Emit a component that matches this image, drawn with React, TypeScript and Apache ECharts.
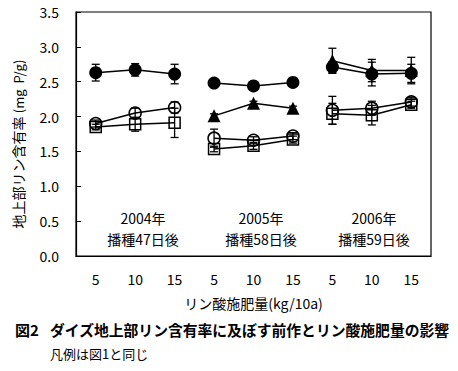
import React, { useEffect, useRef } from "react";
import * as echarts from "echarts";

const xLabels = ["5", "10", "15", "5", "10", "15", "5", "10", "15"];
const yearLabels = ["2004年", "2005年", "2006年"];
const sowingLabels = ["播種47日後", "播種58日後", "播種59日後"];
const yTicks = [0, 0.5, 1.0, 1.5, 2.0, 2.5, 3.0, 3.5];

const filledCircleMean = [2.63, 2.67, 2.61, 2.48, 2.44, 2.49, 2.71, 2.61, 2.62];
const filledCircleErr = [0.12, 0.09, 0.14, 0.03, 0.03, 0.03, 0.08, 0.17, 0.13];
const filledTriangleMean = [null, null, null, 2.01, 2.19, 2.12, 2.8, 2.66, 2.66];
const filledTriangleErr = [null, null, null, 0.03, 0.03, 0.03, 0.18, 0.16, 0.19];
const openCircleMean = [1.9, 2.05, 2.13, 1.69, 1.66, 1.72, 2.09, 2.12, 2.21];
const openCircleErr = [0.05, 0.07, 0.08, 0.13, 0.05, 0.05, 0.2, 0.1, 0.06];
const openSquareMean = [1.85, 1.89, 1.91, 1.535, 1.58, 1.67, 2.04, 2.02, 2.17];
const openSquareErr = [0.04, 0.1, 0.21, 0.04, 0.05, 0.05, 0.15, 0.14, 0.05];

const FONT = "'Noto Sans CJK JP', 'Noto Sans', sans-serif";

type Kind = {
  name: string;
  mean: (number | null)[];
  err: (number | null)[];
  symbol: string;
  size: number;
  filled: boolean;
};

const kinds: Kind[] = [
  { name: "openSquare", mean: openSquareMean, err: openSquareErr, symbol: "rect", size: 11, filled: false },
  { name: "openCircle", mean: openCircleMean, err: openCircleErr, symbol: "circle", size: 12, filled: false },
  { name: "filledTriangle", mean: filledTriangleMean, err: filledTriangleErr, symbol: "triangle", size: 13, filled: true },
  { name: "filledCircle", mean: filledCircleMean, err: filledCircleErr, symbol: "circle", size: 13, filled: true },
];

export default function App() {
  const ref = useRef<HTMLDivElement>(null);
  useEffect(() => {
    if (!ref.current) return;
    const chart = echarts.init(ref.current, undefined, { renderer: "svg" });
    const series: any[] = [];
    kinds.forEach((k) => {
      for (let g = 0; g < 3; g++) {
        const data: any[] = [];
        for (let i = g * 3; i < g * 3 + 3; i++) {
          if (k.mean[i] != null) data.push([i, k.mean[i]]);
        }
        if (!data.length) continue;
        series.push({
          type: "line",
          name: k.name + g,
          data,
          symbol: k.symbol,
          symbolSize: k.size,
          showSymbol: true,
          lineStyle: { color: "#000", width: 1.5 },
          itemStyle: k.filled
            ? { color: "#000", borderColor: "#000", borderWidth: 0 }
            : { color: "rgba(255,255,255,0)", borderColor: "#000", borderWidth: 1.5 },
          z: 3,
        });
      }
      const errData: any[] = [];
      for (let i = 0; i < 9; i++) {
        if (k.mean[i] != null && k.err[i] != null) errData.push([i, k.mean[i], k.err[i]]);
      }
      series.push({
        type: "custom",
        name: k.name + "Err",
        data: errData,
        z: 4,
        renderItem: (params: any, api: any) => {
          const x = api.value(0);
          const m = api.value(1);
          const e = api.value(2);
          const top = api.coord([x, m + e]);
          const bot = api.coord([x, m - e]);
          const w = 4;
          const style = { stroke: "#000", lineWidth: 1.3, fill: "none" };
          return {
            type: "group",
            children: [
              { type: "line", shape: { x1: top[0], y1: top[1], x2: bot[0], y2: bot[1] }, style },
              { type: "line", shape: { x1: top[0] - w, y1: top[1], x2: top[0] + w, y2: top[1] }, style },
              { type: "line", shape: { x1: bot[0] - w, y1: bot[1], x2: bot[0] + w, y2: bot[1] }, style },
            ],
          };
        },
      });
    });

    const groupX = [143, 261, 374];
    const graphics: any[] = [];
    for (let g = 0; g < 3; g++) {
      graphics.push({
        type: "text",
        x: groupX[g],
        y: 218,
        style: { text: yearLabels[g], font: `14px ${FONT}`, fill: "#000", align: "center", verticalAlign: "middle" },
      });
      graphics.push({
        type: "text",
        x: groupX[g],
        y: 239,
        style: { text: sowingLabels[g], font: `14px ${FONT}`, fill: "#000", align: "center", verticalAlign: "middle" },
      });
    }
    graphics.push({
      type: "text",
      x: 18,
      y: 144,
      rotation: Math.PI / 2,
      style: {
        text: "{a|地上部リン含有率} {b|(mg  P/g)}",
        align: "center",
        verticalAlign: "middle",
        fill: "#000",
        rich: {
          a: { fontFamily: FONT, fontSize: 14, fill: "#000" },
          b: { fontFamily: FONT, fontSize: 13, fill: "#000" },
        },
      },
    });
    graphics.push({
      type: "text",
      x: 15,
      y: 329,
      style: { text: "図2", font: `bold 15px ${FONT}`, fill: "#000", verticalAlign: "middle" },
    });
    graphics.push({
      type: "text",
      x: 50,
      y: 329,
      style: {
        text: "ダイズ地上部リン含有率に及ぼす前作とリン酸施肥量の影響",
        font: `bold 14.8px ${FONT}`,
        fill: "#000",
        verticalAlign: "middle",
      },
    });
    graphics.push({
      type: "text",
      x: 50,
      y: 353,
      style: { text: "凡例は図1と同じ", font: `13px ${FONT}`, fill: "#000", verticalAlign: "middle" },
    });

    chart.setOption({
      animation: false,
      backgroundColor: "#fff",
      textStyle: { fontFamily: FONT },
      grid: {
        left: 76,
        top: 12,
        right: 27,
        bottom: 115,
        show: true,
        borderColor: "#000",
        borderWidth: 1.2,
        backgroundColor: "transparent",
      },
      xAxis: {
        type: "category",
        data: xLabels,
        boundaryGap: true,
        axisLine: { lineStyle: { color: "#000", width: 1.2 } },
        axisTick: { inside: true, length: 5, lineStyle: { color: "#000" } },
        axisLabel: { color: "#000", fontSize: 14, margin: 16, fontFamily: FONT },
        name: "リン酸施肥量(kg/10a)",
        nameLocation: "middle",
        nameGap: 40,
        nameTextStyle: { color: "#000", fontSize: 14, fontFamily: FONT },
        splitLine: { show: false },
      },
      yAxis: {
        type: "value",
        min: yTicks[0],
        max: yTicks[yTicks.length - 1],
        interval: 0.5,
        axisLine: { show: true, lineStyle: { color: "#000", width: 1.2 } },
        axisTick: { show: true, inside: true, length: 5, lineStyle: { color: "#000" } },
        axisLabel: {
          color: "#000",
          fontSize: 14,
          margin: 17,
          fontFamily: FONT,
          formatter: (v: number) => v.toFixed(1),
        },
        splitLine: { show: false },
      },
      graphic: graphics,
      series,
    });
    return () => chart.dispose();
  }, []);
  return (
    <div
      ref={ref}
      style={{ position: "fixed", left: 0, top: 0, width: 458, height: 371, background: "#fff" }}
    />
  );
}
